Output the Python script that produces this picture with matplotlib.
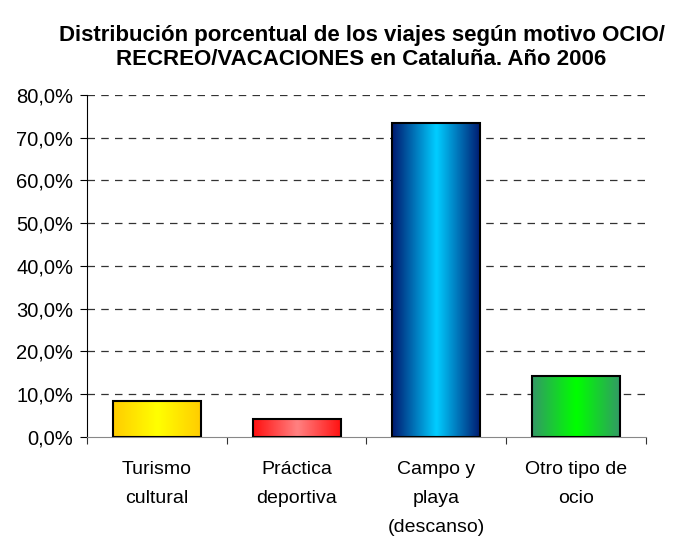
import numpy as np
import matplotlib
matplotlib.use('Agg')
import matplotlib.pyplot as plt
from matplotlib.colors import LinearSegmentedColormap
from matplotlib.ticker import FuncFormatter

plt.rcParams['font.family'] = ['Liberation Sans', 'DejaVu Sans']

categories = ['Turismo\ncultural', 'Práctica\ndeportiva', 'Campo y\nplaya\n(descanso)', 'Otro tipo de\nocio']
values = [8.4, 4.2, 73.4, 14.2]
# (edge colour, centre colour) for the horizontal gradient of each bar
bar_colors = [('#FFCC00', '#FFFF00'),
              ('#FF1010', '#FF8080'),
              ('#001A70', '#00CCFF'),
              ('#339966', '#00FF00')]
title = 'Distribución porcentual de los viajes según motivo OCIO/\nRECREO/VACACIONES en Cataluña. Año 2006'

fig = plt.figure(figsize=(6.86, 5.36), dpi=100)
ax = fig.add_axes([0.1268, 0.1847, 0.8149, 0.6381])

x = np.arange(len(categories))
bars = ax.bar(x, values, width=0.63, facecolor='none', edgecolor='black', linewidth=1.5, zorder=4)

grad = np.concatenate([np.linspace(0, 1, 50), np.linspace(1, 0, 50)]).reshape(1, -1)
for bar, (edge, centre) in zip(bars, bar_colors):
    cmap = LinearSegmentedColormap.from_list('g', [edge, centre])
    x0, y0 = bar.get_x(), bar.get_y()
    im = ax.imshow(grad, cmap=cmap, aspect='auto', interpolation='bicubic',
                   extent=[x0, x0 + bar.get_width(), y0, y0 + bar.get_height()], zorder=3)
    im.set_clip_path(bar)

ax.set_xlim(-0.5, len(categories) - 0.5)
ax.set_ylim(0, 80)
ax.set_yticks(np.arange(0, 81, 10))
ax.yaxis.set_major_formatter(FuncFormatter(lambda v, p: ('%.1f%%' % v).replace('.', ',')))
for yv in range(10, 81, 10):
    ax.axhline(yv, color='#333333', linestyle=(0, (6, 5)), linewidth=0.9, zorder=1)

ax.set_xticks(np.arange(-0.5, len(categories), 1))
ax.set_xticklabels([])
ax.set_xticks(x, minor=True)
ax.set_xticklabels(categories, minor=True, fontsize=14, linespacing=1.95, va='top')
ax.tick_params(axis='x', which='minor', length=0, pad=17)
ax.tick_params(axis='x', which='major', length=5, color='#333333')
ax.tick_params(axis='y', length=5, labelsize=14.5, pad=5)

for s in ['top', 'right']:
    ax.spines[s].set_visible(False)
ax.spines['bottom'].set_color('#888888')
ax.spines['left'].set_color('black')

fig.text(0.527, 0.912, title, ha='center', va='center', fontsize=16,
         fontweight='bold', linespacing=1.2)

fig.savefig('out.png', dpi=100)
